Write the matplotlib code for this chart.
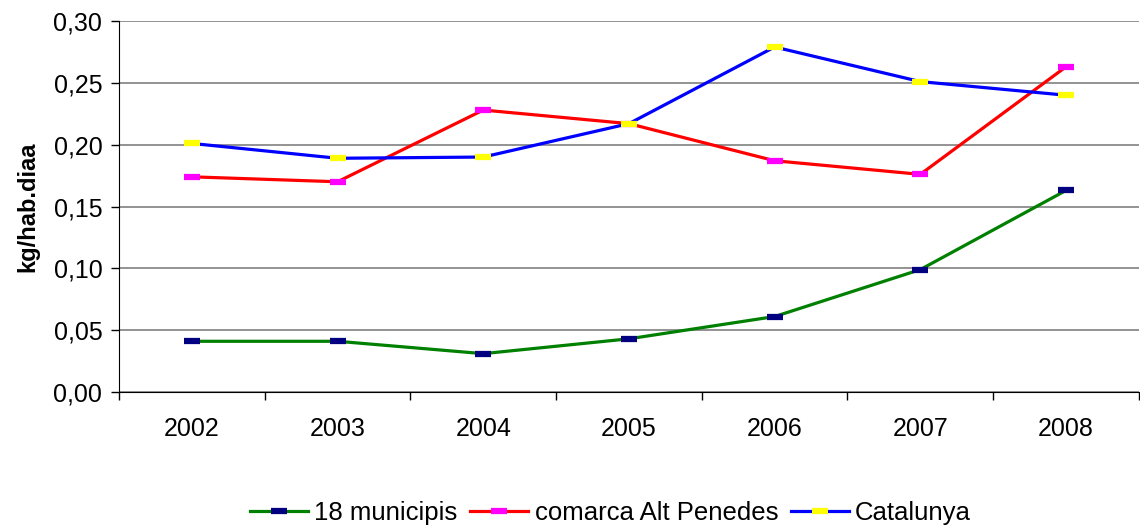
import matplotlib
matplotlib.use("Agg")
import matplotlib.pyplot as plt
from matplotlib.ticker import FuncFormatter, FixedLocator

plt.rcParams['font.family'] = ['Liberation Sans', 'DejaVu Sans']

years = ['2002', '2003', '2004', '2005', '2006', '2007', '2008']
municipis = [0.041, 0.041, 0.031, 0.043, 0.061, 0.099, 0.163]
alt_penedes = [0.174, 0.170, 0.228, 0.217, 0.187, 0.176, 0.263]
catalunya = [0.201, 0.189, 0.190, 0.217, 0.279, 0.251, 0.240]

series = [
    ('18 municipis', municipis, '#008000', '#000080'),
    ('comarca Alt Penedes', alt_penedes, '#FF0000', '#FF00FF'),
    ('Catalunya', catalunya, '#0000FF', '#FFFF00'),
]

fig = plt.figure(figsize=(11.4, 5.28), dpi=100)
ax = fig.add_axes([0.1044, 0.2576, 0.8946, 0.7026])

x = list(range(len(years)))
for name, vals, lc, mc in series:
    ax.plot(x, vals, color=lc, lw=2.3, marker='_', markersize=11,
            markeredgewidth=4.5, markeredgecolor=mc, label=name)

ax.set_xlim(-0.5, len(years) - 0.5)
ax.set_ylim(0, 0.30)
ax.set_yticks([0, 0.05, 0.10, 0.15, 0.20, 0.25, 0.30])
ax.yaxis.set_major_formatter(FuncFormatter(lambda v, p: f"{v:.2f}".replace('.', ',')))
ax.set_xticks(x)
ax.set_xticklabels(years)
ax.xaxis.set_minor_locator(FixedLocator([i - 0.5 for i in range(len(years) + 1)]))
ax.tick_params(axis='x', which='major', length=0, pad=18, labelsize=18)
ax.tick_params(axis='x', which='minor', length=6, width=1, color='black')
ax.tick_params(axis='y', length=6, width=1, labelsize=18, pad=6)

ax.grid(axis='y', color='#808080', lw=1.2)
ax.set_axisbelow(True)
for s in ['top', 'right']:
    ax.spines[s].set_visible(False)
ax.spines['left'].set_color('black')
ax.spines['bottom'].set_color('black')

ax.set_ylabel('kg/hab.diaa', fontsize=17, fontweight='bold', labelpad=10)

fig.legend(loc='center', bbox_to_anchor=(0.5355, 0.028), ncol=3, frameon=False,
           fontsize=18.5, handlelength=2.25, handletextpad=0.25, columnspacing=0.5)

fig.savefig('out.png', dpi=100)
